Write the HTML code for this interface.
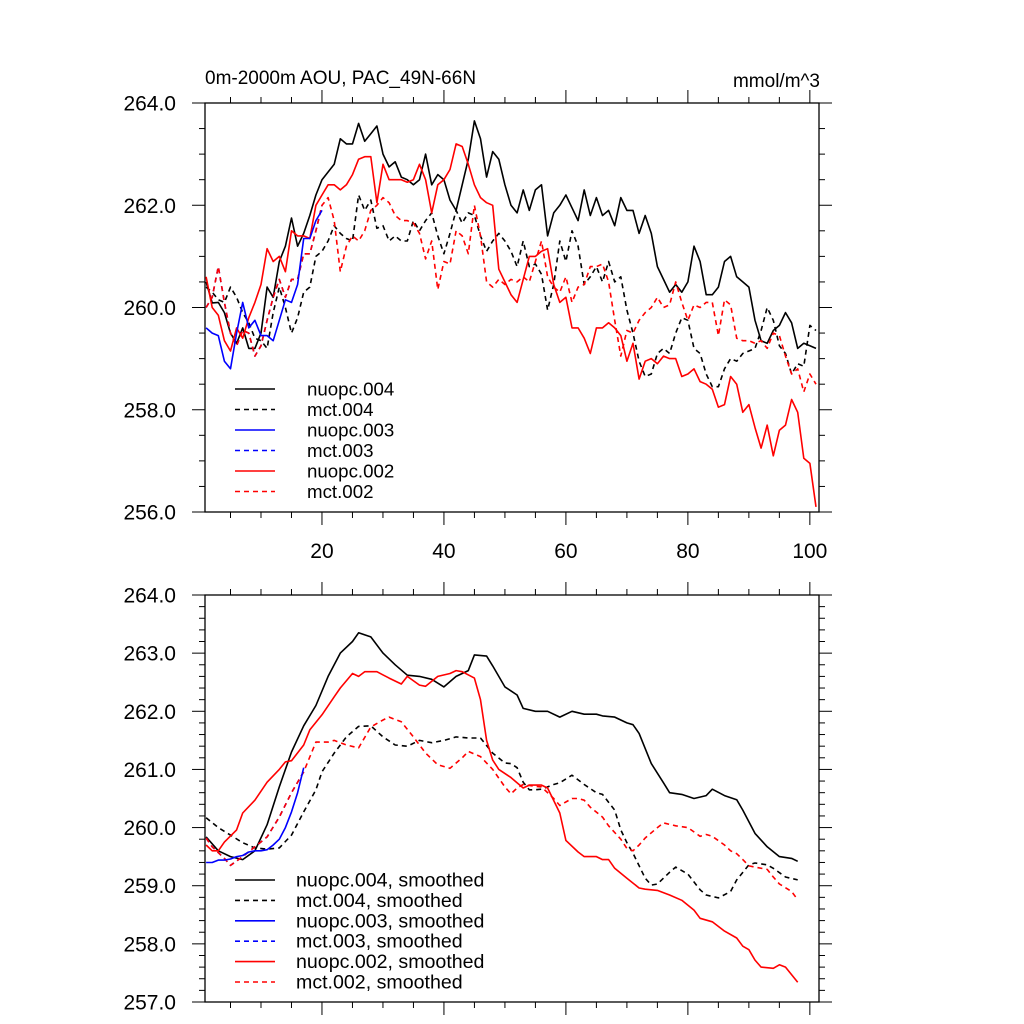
<!DOCTYPE html>
<html><head><meta charset="utf-8"><style>
html,body{margin:0;padding:0;background:#fff}
svg{display:block;font-family:"Liberation Sans",sans-serif}
</style></head><body>
<svg id="chart" width="1024" height="1024" viewBox="0 0 1024 1024" xmlns="http://www.w3.org/2000/svg">
<rect width="1024" height="1024" fill="#fff"/>
<text x="205" y="84" font-size="19">0m-2000m AOU, PAC_49N-66N</text>
<text x="820" y="87" font-size="19" text-anchor="end">mmol/m^3</text>
<g id="top"></g><g id="bot"></g>
</svg>
<script>
const ns="http://www.w3.org/2000/svg";
// ---- raw annual data (years 1..101) ----
const nuopc004=[260.5,260.09,260.1,259.9,259.5,259.3,259.6,259.2,259.2,259.5,260.4,260.2,260.9,261.2,261.75,261.2,261.45,261.8,262.2,262.5,262.65,262.8,263.3,263.2,263.2,263.6,263.25,263.4,263.55,263.0,262.75,262.85,262.55,262.5,262.4,262.5,263.0,262.4,262.6,262.5,262.1,261.9,262.4,262.9,263.65,263.3,262.55,263.05,262.9,262.4,262.0,261.85,262.3,261.9,262.3,262.4,261.4,261.85,262.0,262.2,261.95,261.7,262.3,261.8,262.15,261.8,261.9,261.6,262.15,261.9,261.9,261.45,261.8,261.45,260.8,260.55,260.3,260.45,260.3,260.5,261.2,260.9,260.25,260.25,260.4,260.9,261.0,260.6,260.5,260.4,259.75,259.35,259.3,259.55,259.65,259.9,259.7,259.2,259.3,259.25,259.2];
const mct004=[260.4,260.3,260.15,260.1,260.4,260.2,259.9,259.7,259.4,259.35,259.2,259.9,260.4,260.0,259.5,259.8,260.3,260.4,261.0,261.1,261.3,261.6,261.45,261.35,261.3,262.2,261.9,262.1,261.55,261.6,261.3,261.4,261.3,261.3,261.7,261.5,261.7,261.85,261.4,261.05,261.45,261.9,261.65,261.85,261.8,261.4,261.1,261.3,261.45,261.3,261.1,260.8,261.3,260.8,260.85,260.65,259.95,260.45,261.3,260.9,261.5,261.2,260.45,260.6,260.8,260.5,260.9,260.5,260.6,259.95,259.5,258.95,258.65,258.7,259.1,259.2,259.1,259.5,259.8,259.75,259.2,259.1,258.7,258.45,258.45,258.8,259.0,258.95,259.1,259.15,259.2,259.55,260.0,259.75,259.25,259.1,258.7,258.9,258.85,259.65,259.55];
const nuopc003=[259.6,259.5,259.45,258.95,258.8,259.5,260.1,259.6,259.75,259.45,259.45,259.35,259.75,260.15,260.1,260.45,261.35,261.35,261.7,261.9];
const mct003=[260.0,260.2,260.8,260.1,259.5,259.25,259.55,259.5,259.05,259.25,259.75,260.2,260.55,260.2,260.55,260.55,261.05,261.05,261.5,262.0];
const nuopc002=[260.6,260.0,259.85,259.35,259.15,259.6,259.4,259.8,260.1,260.45,261.15,260.9,261.0,260.7,261.5,261.4,261.4,261.35,262.0,262.2,262.4,262.4,262.3,262.4,262.6,262.9,262.95,262.95,262.05,262.8,262.5,262.5,262.5,262.45,262.5,262.8,262.5,261.85,262.4,262.5,262.7,263.2,263.15,262.8,262.4,262.15,262.05,262.0,260.75,260.5,260.25,260.1,260.55,261.0,261.0,261.1,261.15,260.45,260.1,260.2,259.6,259.6,259.4,259.1,259.6,259.6,259.7,259.6,259.45,258.95,259.3,258.6,258.95,259.0,258.9,259.05,259.0,259.0,258.65,258.7,258.8,258.55,258.5,258.4,258.05,258.1,258.65,258.5,257.95,258.1,257.65,257.25,257.7,257.1,257.6,257.7,258.2,257.95,257.05,256.95,256.1];
const mct002=[260.0,260.2,260.8,260.1,259.5,259.25,259.55,259.5,259.05,259.25,259.75,260.2,260.55,260.2,260.55,260.55,261.05,261.05,261.5,262.0,262.15,261.7,260.7,261.2,261.4,261.3,261.5,261.9,262.0,262.15,262.05,261.8,261.7,261.7,261.65,261.45,260.95,261.3,260.35,260.9,260.85,261.5,261.4,261.05,262.0,261.4,260.5,260.4,260.55,260.45,260.55,260.5,260.6,260.5,260.9,261.3,260.6,260.4,260.3,260.6,260.1,260.4,260.45,260.8,260.8,260.85,260.5,259.75,259.05,259.55,259.5,259.75,259.9,260.0,260.2,260.0,260.05,260.5,260.1,259.75,260.05,260.0,260.1,260.1,259.45,260.15,260.05,259.4,259.35,259.35,259.3,259.35,259.2,259.5,259.45,259.05,258.7,258.8,258.35,258.7,258.5];
// ---- smoothed data (year, value pairs) ----
const sN004yrs=[1,3,5,7,9,11,13,15,17,19,21,23,25,26,28,30,32,34,36,38,40,42,44,45,47,48,50,51,52,53,55,57,59,61,63,65,66,68,70,71,72,74,76,77,79,81,83,84,86,88,89,91,93,95,97,98];
const sN004=[259.84,259.6,259.5,259.45,259.6,260.05,260.7,261.3,261.75,262.1,262.6,263.0,263.2,263.35,263.28,263.0,262.8,262.62,262.6,262.55,262.42,262.6,262.7,262.97,262.95,262.78,262.42,262.35,262.28,262.05,262.0,262.0,261.9,262.0,261.95,261.95,261.92,261.9,261.8,261.77,261.62,261.1,260.77,260.6,260.57,260.5,260.55,260.66,260.55,260.48,260.3,259.9,259.67,259.5,259.47,259.42];
const sM004yrs=[1,3,5,7,9,11,13,15,17,19,20,22,24,26,28,30,32,34,36,38,40,42,44,46,48,50,51,52,53,54,55,56,58,59,61,63,65,66,68,69,70,71,73,74,75,77,78,80,82,83,85,87,88,90,91,93,94,96,98];
const sM004=[260.17,260.0,259.87,259.74,259.65,259.63,259.65,259.87,260.27,260.65,260.96,261.28,261.56,261.74,261.75,261.56,261.42,261.4,261.5,261.46,261.5,261.56,261.54,261.54,261.28,261.11,261.1,261.03,260.78,260.65,260.65,260.66,260.74,260.77,260.9,260.74,260.6,260.57,260.3,259.96,259.74,259.56,259.13,259.01,259.03,259.23,259.32,259.2,258.93,258.84,258.79,258.9,259.1,259.36,259.39,259.36,259.3,259.15,259.1];
const sN003yrs=[1,2,3,4,5,6,7,8,9,10,11,12,13,14,15,16,17];
const sN003=[259.4,259.4,259.44,259.44,259.46,259.5,259.52,259.58,259.6,259.6,259.62,259.7,259.8,260.0,260.27,260.6,261.03];
const sM003yrs=[1,2,4,5,7,9,11,13,15,17];
const sM003=[259.82,259.67,259.47,259.35,259.5,259.67,259.84,260.18,260.6,260.96];
const sN002yrs=[1,2,3,4,6,7,9,11,13,14,15,17,18,20,22,23,25,26,27,29,31,33,34,36,37,39,41,42,43,45,46,47,48,49,51,53,54,56,57,59,60,62,63,65,66,67,68,70,72,73,75,77,79,81,82,84,86,88,89,90,91,92,94,95,96,98];
const sN002=[259.7,259.6,259.6,259.75,259.96,260.25,260.47,260.78,261.0,261.13,261.15,261.42,261.68,261.94,262.25,262.4,262.65,262.6,262.68,262.68,262.57,262.47,262.6,262.45,262.43,262.6,262.65,262.7,262.68,262.57,262.2,261.5,261.16,261.0,260.86,260.68,260.73,260.73,260.68,260.25,259.78,259.58,259.5,259.5,259.45,259.45,259.3,259.13,258.96,258.94,258.92,258.84,258.75,258.58,258.44,258.38,258.22,258.1,257.96,257.9,257.72,257.6,257.58,257.64,257.6,257.34];
const sM002yrs=[1,2,4,5,7,9,11,13,15,17,19,21,22,24,26,28,30,31,33,35,37,39,41,43,44,46,48,50,51,52,53,55,56,58,59,61,62,63,64,66,67,69,70,71,72,73,75,76,78,80,82,83,84,86,87,88,89,90,91,93,94,95,97,98];
const sM002=[259.82,259.67,259.47,259.35,259.5,259.67,259.84,260.18,260.6,260.96,261.47,261.47,261.5,261.42,261.37,261.73,261.85,261.9,261.82,261.56,261.28,261.08,261.02,261.2,261.31,261.22,261.0,260.7,260.58,260.68,260.74,260.71,260.7,260.5,260.38,260.5,260.5,260.47,260.35,260.18,260.03,259.8,259.64,259.6,259.7,259.82,260.0,260.08,260.03,260.0,259.85,259.88,259.85,259.7,259.6,259.55,259.45,259.34,259.32,259.28,259.15,259.03,258.9,258.76];
const topYTicks=["264.0","262.0","260.0","258.0","256.0"];
const botYTicks=["264.0","263.0","262.0","261.0","260.0","259.0","258.0","257.0"];
const xTicks=[20,40,60,80,100];

const svg=document.getElementById('chart');
function el(parent,tag,attrs){const e=document.createElementNS(ns,tag);for(const k in attrs)e.setAttribute(k,attrs[k]);parent.appendChild(e);return e;}
const L=205,R=819,X0=0.82,X1=101.5;
const xs=v=>L+(v-X0)/(X1-X0)*(R-L);

function panel(g,T,B,ymin,ymax,minorStep,ticks,showX){
  const ys=v=>B-(v-ymin)/(ymax-ymin)*(B-T);
  const f=el(g,'rect',{x:L,y:T,width:R-L,height:B-T,fill:'none',stroke:'#000','stroke-width':1.3});
  
  
  for(let v=ymin;v<=ymax+1e-6;v+=minorStep){
    const major=Math.abs(Math.round(v)-v)<1e-6 && (ticks.length===5?Math.round(v)%2===0:true);
    const len=major?13:6, y=ys(v);
    const t1=el(g,'line',{x1:L-len,x2:L,y1:y,y2:y,stroke:'#000','stroke-width':1});
    
    
    const t2=el(g,'line',{x1:R,x2:R+len,y1:y,y2:y,stroke:'#000','stroke-width':1});
    
    
  }
  ticks.forEach(s=>{
    const t=el(g,'text',{x:176,y:ys(parseFloat(s))+7.5,'font-size':21,'text-anchor':'end'});
    t.textContent=s;
    
    
  });
  for(let v=5;v<=100;v+=5){
    const major=v%20===0,len=major?13:6,x=xs(v);
    const a=el(g,'line',{x1:x,x2:x,y1:T-len,y2:T,stroke:'#000','stroke-width':1});
    
    
    const b=el(g,'line',{x1:x,x2:x,y1:B,y2:B+len,stroke:'#000','stroke-width':1});
    
    
  }
  if(showX) xTicks.forEach(v=>{
    const t=el(g,'text',{x:xs(v),y:B+46,'font-size':21,'text-anchor':'middle'});
    t.textContent=String(v);
    
    
  });
  return ys;
}
function series(g,ys,yrs,vals,color,dash,name){
  const pts=vals.map((v,i)=>xs(yrs?yrs[i]:i+1).toFixed(1)+','+ys(v).toFixed(1)).join(' ');
  const p=el(g,'polyline',{points:pts,fill:'none',stroke:color,'stroke-width':1.6,'stroke-dasharray':dash?'5,4':'none','stroke-linejoin':'round'});
  
  
}
function legend(g,x0,tx,y0,dy,fs,items){
  items.forEach((it,i)=>{
    const y=y0+i*dy;
    const l=el(g,'line',{x1:x0,x2:x0+40,y1:y,y2:y,stroke:it[1],'stroke-width':1.6,'stroke-dasharray':it[2]?'5,4':'none'});
    
    
    const t=el(g,'text',{x:tx,y:y+6.5,'font-size':fs});
    t.textContent=it[0];
    
    
  });
}
const gt=document.getElementById('top'),gb=document.getElementById('bot');
const yt=panel(gt,103,512,256,264,0.5,topYTicks,true);
series(gt,yt,null,mct004,'#000',true,'mct004-line');
series(gt,yt,null,nuopc004,'#000',false,'nuopc004-line');
series(gt,yt,null,mct003,'#00f',true,'mct003-line');
series(gt,yt,null,mct002,'#f00',true,'mct002-line');
series(gt,yt,null,nuopc002,'#f00',false,'nuopc002-line');
series(gt,yt,null,nuopc003,'#00f',false,'nuopc003-line');
legend(gt,235,307,389,20.5,18.7,[["nuopc.004","#000",0],["mct.004","#000",1],["nuopc.003","#00f",0],["mct.003","#00f",1],["nuopc.002","#f00",0],["mct.002","#f00",1]]);

const yb=panel(gb,595,1002,257,264,0.2,botYTicks,false);
series(gb,yb,sM004yrs,sM004,'#000',true,'mct004-smoothed');
series(gb,yb,sN004yrs,sN004,'#000',false,'nuopc004-smoothed');
series(gb,yb,sM003yrs,sM003,'#00f',true,'mct003-smoothed');
series(gb,yb,sM002yrs,sM002,'#f00',true,'mct002-smoothed');
series(gb,yb,sN002yrs,sN002,'#f00',false,'nuopc002-smoothed');
series(gb,yb,sN003yrs,sN003,'#00f',false,'nuopc003-smoothed');
legend(gb,235,296,880,20.4,19.6,[["nuopc.004, smoothed","#000",0],["mct.004, smoothed","#000",1],["nuopc.003, smoothed","#00f",0],["mct.003, smoothed","#00f",1],["nuopc.002, smoothed","#f00",0],["mct.002, smoothed","#f00",1]]);
</script>
</body></html>
